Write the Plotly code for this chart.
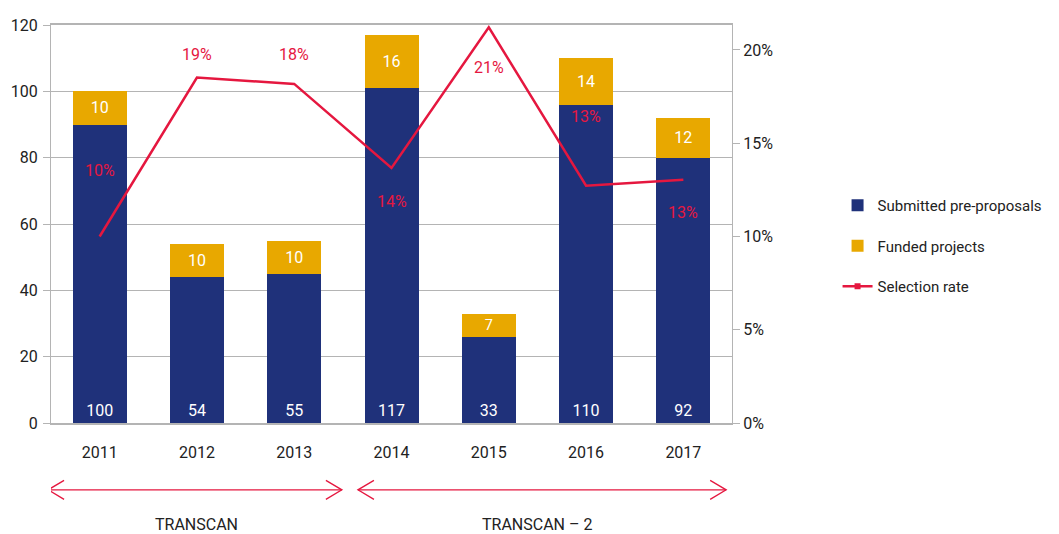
import plotly.graph_objects as go

years = ["2011", "2012", "2013", "2014", "2015", "2016", "2017"]
submitted = [100, 54, 55, 117, 33, 110, 92]
funded = [10, 10, 10, 16, 7, 14, 12]
rate = [f / s for f, s in zip(funded, submitted)]
rate_labels = ["10%", "19%", "18%", "14%", "21%", "13%", "13%"]
label_shift = [66, 23, 29, -34, -40, 69, -33]

BLUE = "#1F317A"
GOLD = "#E8A800"
RED = "#E5173F"
FONT = "Roboto"

unfunded = [s - f for s, f in zip(submitted, funded)]

fig = go.Figure()
fig.add_trace(go.Bar(
    x=years, y=unfunded, name="Submitted pre-proposals", marker_color=BLUE,
    marker_line_width=0, text=[str(s) for s in submitted], textposition="inside",
    insidetextanchor="start", textangle=0,
    textfont=dict(color="white", size=16, family=FONT),
    legendgroup="a", legendrank=1,
))
fig.add_trace(go.Bar(
    x=years, y=funded, name="Funded projects", marker_color=GOLD,
    marker_line_width=0, text=[str(f) for f in funded], textposition="inside",
    insidetextanchor="middle", textangle=0,
    textfont=dict(color="white", size=16, family=FONT),
    legendgroup="b", legendrank=2,
))
fig.add_trace(go.Scatter(
    x=years, y=rate, yaxis="y2", mode="lines", line=dict(color=RED, width=2.5),
    showlegend=False, legendgroup="c",
))
fig.add_trace(go.Scatter(
    x=[None], y=[None], yaxis="y2", mode="lines+markers", name="Selection rate",
    line=dict(color=RED, width=2.5), marker=dict(symbol="square", size=6, color=RED),
    legendgroup="c", legendrank=3,
))

for i, (r, lab, sh) in enumerate(zip(rate, rate_labels, label_shift)):
    fig.add_annotation(x=i, y=r, xref="x", yref="y2", text=lab, showarrow=False,
                       yshift=sh, font=dict(color=RED, size=16, family=FONT))

# period arrows
periods = [("TRANSCAN", -0.53, 2.49, 1.0), ("TRANSCAN – 2", 2.655, 6.44, 4.5)]
ay = -0.168
for name, x0, x1, xc in periods:
    fig.add_shape(type="line", xref="x", yref="paper", x0=x0, x1=x1, y0=ay, y1=ay,
                  line=dict(color=RED, width=1.3))
    fig.add_shape(type="path", xref="x", yref="paper", xsizemode="pixel", ysizemode="pixel",
                  xanchor=x0, yanchor=ay, path="M 16,9.5 L 0,0 L 16,-9.5",
                  line=dict(color=RED, width=1.3))
    fig.add_shape(type="path", xref="x", yref="paper", xsizemode="pixel", ysizemode="pixel",
                  xanchor=x1, yanchor=ay, path="M -16,9.5 L 0,0 L -16,-9.5",
                  line=dict(color=RED, width=1.3))
    fig.add_annotation(x=xc, y=-0.255, xref="x", yref="paper", text=name, showarrow=False,
                       yanchor="middle", font=dict(color="#222", size=16, family=FONT))

fig.update_layout(
    width=1059, height=534,
    margin=dict(l=51, r=327, t=25, b=111),
    barmode="stack", bargap=0.445,
    plot_bgcolor="white", paper_bgcolor="white",
    font=dict(family=FONT, size=16, color="#222"),
    xaxis=dict(type="category", range=[-0.5, len(years) - 0.5], autorange=False,
               showline=True, linecolor="#B4B4B4", linewidth=2, mirror=True,
               ticks="", ticklabelstandoff=14, tickfont=dict(size=16, color="#222"),
               showgrid=False),
    yaxis=dict(range=[0, 120], dtick=20, showgrid=True, gridcolor="#B4B4B4", gridwidth=1.3,
               showline=True, linecolor="#B4B4B4", linewidth=1.3, mirror=True,
               ticks="outside", ticklen=7, tickcolor="#B4B4B4", ticklabelstandoff=2,
               tickfont=dict(size=16, color="#222"), zeroline=False),
    yaxis2=dict(overlaying="y", side="right", range=[0, 0.2134], dtick=0.05,
                tickformat=".0%", showgrid=False, ticks="outside", ticklen=7,
                tickcolor="#B4B4B4", showline=False, zeroline=False,
                tickfont=dict(size=16, color="#222")),
    legend=dict(x=1.155, y=0.588, xanchor="left", yanchor="top",
                traceorder="grouped", tracegroupgap=18,
                font=dict(size=15, color="#222", family=FONT),
                itemwidth=30, bgcolor="rgba(0,0,0,0)"),
)

fig.write_html("out.html", config={"displayModeBar": False},
               post_script="document.body.style.margin='0';document.body.style.overflow='hidden';")
